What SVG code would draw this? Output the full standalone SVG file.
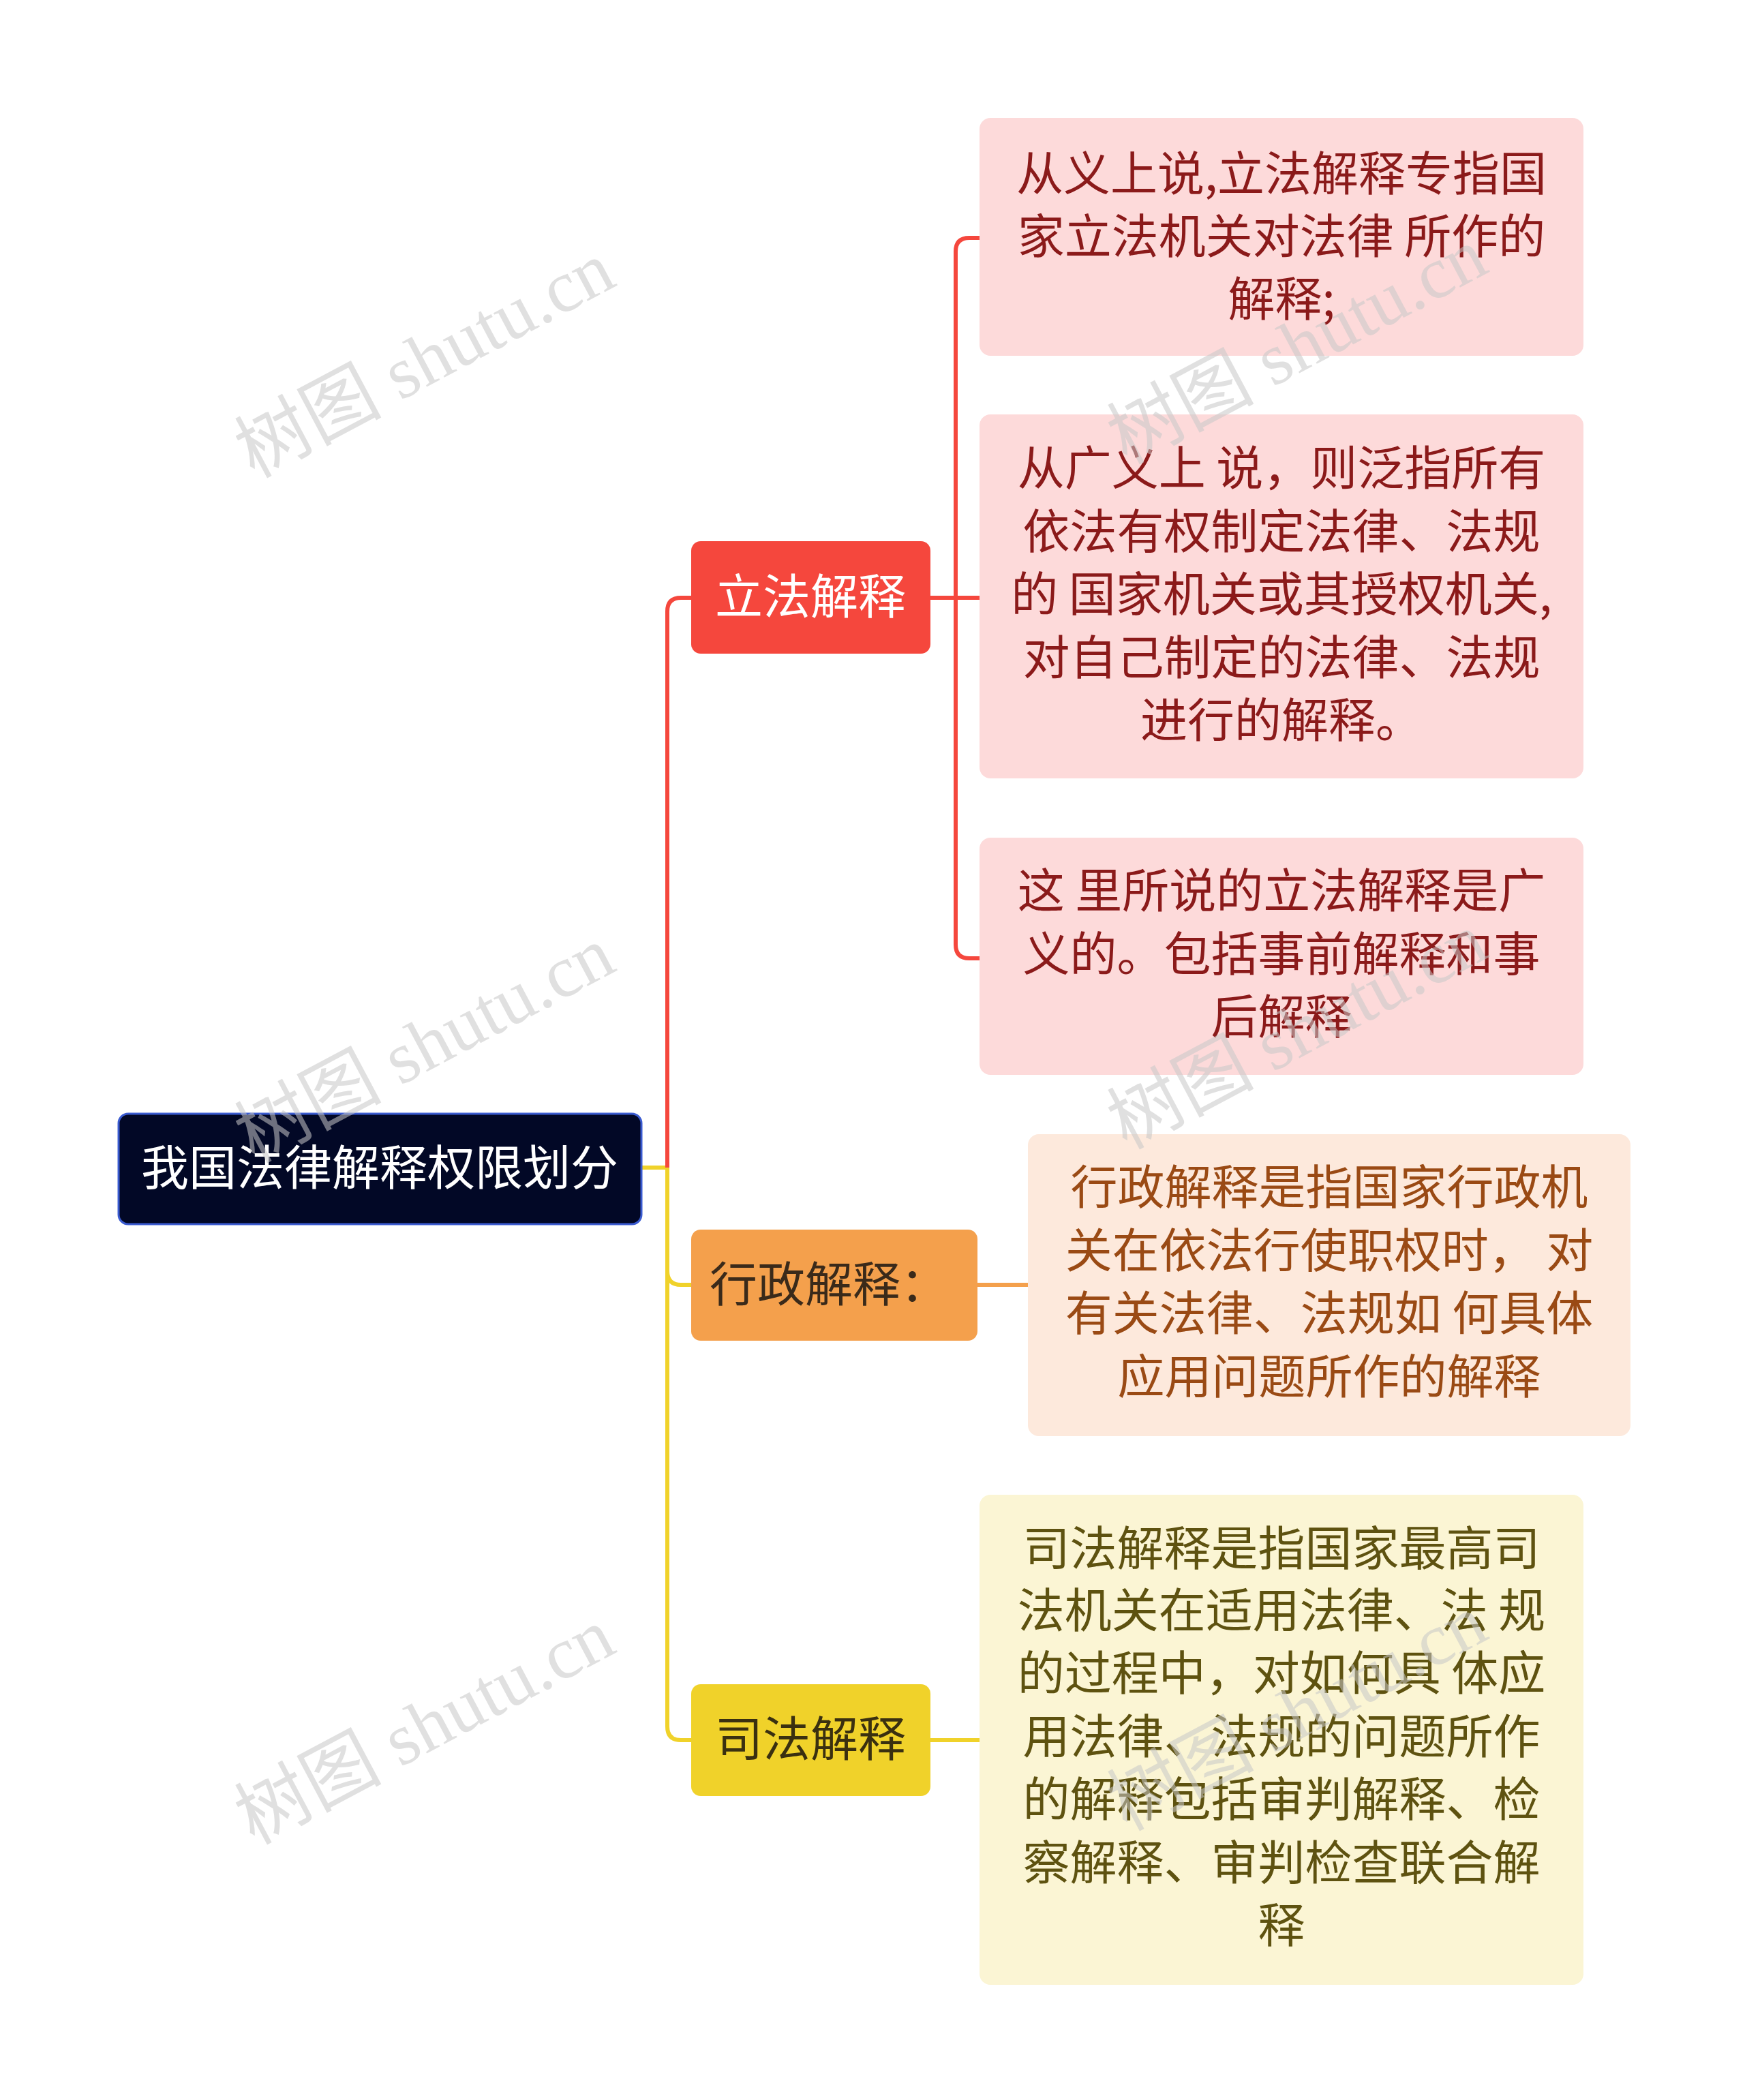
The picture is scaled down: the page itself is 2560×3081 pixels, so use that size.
<svg xmlns="http://www.w3.org/2000/svg" width="2560" height="3081" viewBox="0 0 2560 3081">
<style>
text{font-family:"Noto Sans CJK SC","Noto Sans",sans-serif;text-anchor:middle}
.n{font-size:70px}
.l{font-size:69px}
.wm{font-family:"Liberation Serif","Noto Sans CJK SC",serif;font-size:108px;fill:#c8c8c8;opacity:0.55;text-anchor:middle}
.c{fill:none;stroke-width:6}
</style>
<rect width="2560" height="3081" fill="#fff"/>
<g id="connectors">
<path class="c" stroke="#f0d22a" d="M941 1713 H979"/>
<path class="c" stroke="#f5473d" d="M979 1713 V897 Q979 877 999 877 H1014"/>
<path class="c" stroke="#f0d22a" d="M979 1713 V1865 Q979 1885 999 1885 H1014"/>
<path class="c" stroke="#f0d22a" d="M979 1713 V2533 Q979 2553 999 2553 H1014"/>
<path class="c" stroke="#f5473d" d="M1365 877 H1437"/>
<path class="c" stroke="#f5473d" d="M1402 877 V369 Q1402 349 1422 349 H1437"/>
<path class="c" stroke="#f5473d" d="M1402 877 V1386 Q1402 1406 1422 1406 H1437"/>
<path class="c" stroke="#f4a04c" d="M1434 1885 H1508"/>
<path class="c" stroke="#f0d22a" d="M1365 2553 H1437"/>
</g>
<g id="root"><rect x="174" y="1634" width="767" height="162" rx="14" fill="#020826" stroke="#3a5bd0" stroke-width="3"/><text class="n" x="557" y="1739" fill="#fff">我国法律解释权限划分</text></g>
<g id="b1"><rect x="1014" y="794" width="351" height="165" rx="14" fill="#f5473d"/><text class="n" x="1189" y="901" fill="#fff">立法解释</text></g>
<g id="b2"><rect x="1014" y="1804" width="420" height="163" rx="14" fill="#f4a04c"/><text class="n" x="1216" y="1910" fill="#3a2a1a">行政解释：</text></g>
<g id="b3"><rect x="1014" y="2471" width="351" height="164" rx="14" fill="#f0d22a"/><text class="n" x="1189" y="2577" fill="#3a3010">司法解释</text></g>
<g id="leaf1"><rect x="1437" y="173" width="886" height="349" rx="16" fill="#fddada"/>
<text class="l" fill="#8b1a1a"><tspan x="1880" y="280">从义上说,立法解释专指国</tspan><tspan x="1880" y="372">家立法机关对法律 所作的</tspan><tspan x="1880" y="464">解释;</tspan></text></g>
<g id="leaf2"><rect x="1437" y="608" width="886" height="534" rx="16" fill="#fddada"/>
<text class="l" fill="#8b1a1a"><tspan x="1880" y="712">从广义上 说，则泛指所有</tspan><tspan x="1880" y="805">依法有权制定法律、法规</tspan><tspan x="1880" y="897">的 国家机关或其授权机关,</tspan><tspan x="1880" y="990">对自己制定的法律、法规</tspan><tspan x="1880" y="1082">进行的解释。</tspan></text></g>
<g id="leaf3"><rect x="1437" y="1229" width="886" height="348" rx="16" fill="#fddada"/>
<text class="l" fill="#8b1a1a"><tspan x="1880" y="1332">这 里所说的立法解释是广</tspan><tspan x="1880" y="1425">义的。包括事前解释和事</tspan><tspan x="1880" y="1517">后解释</tspan></text></g>
<g id="leaf4"><rect x="1508" y="1664" width="884" height="443" rx="16" fill="#fde9dc"/>
<text class="l" fill="#9a4a14"><tspan x="1950" y="1767">行政解释是指国家行政机</tspan><tspan x="1950" y="1860">关在依法行使职权时， 对</tspan><tspan x="1950" y="1952">有关法律、法规如 何具体</tspan><tspan x="1950" y="2045">应用问题所作的解释</tspan></text></g>
<g id="leaf5"><rect x="1437" y="2193" width="886" height="719" rx="16" fill="#fbf5d4"/>
<text class="l" fill="#5e5210"><tspan x="1880" y="2297">司法解释是指国家最高司</tspan><tspan x="1880" y="2388">法机关在适用法律、法 规</tspan><tspan x="1880" y="2480">的过程中，对如何具 体应</tspan><tspan x="1880" y="2573">用法律、法规的问题所作</tspan><tspan x="1880" y="2665">的解释包括审判解释、检</tspan><tspan x="1880" y="2758">察解释、审判检查联合解</tspan><tspan x="1880" y="2850">释</tspan></text></g>
<g id="watermarks">
<text class="wm" transform="translate(640,560) rotate(-28)">树图 shutu.cn</text>
<text class="wm" transform="translate(640,1565) rotate(-28)">树图 shutu.cn</text>
<text class="wm" transform="translate(640,2565) rotate(-28)">树图 shutu.cn</text>
<text class="wm" transform="translate(1920,540) rotate(-28)">树图 shutu.cn</text>
<text class="wm" transform="translate(1920,1545) rotate(-28)">树图 shutu.cn</text>
<text class="wm" transform="translate(1920,2545) rotate(-28)">树图 shutu.cn</text>
</g>
</svg>
